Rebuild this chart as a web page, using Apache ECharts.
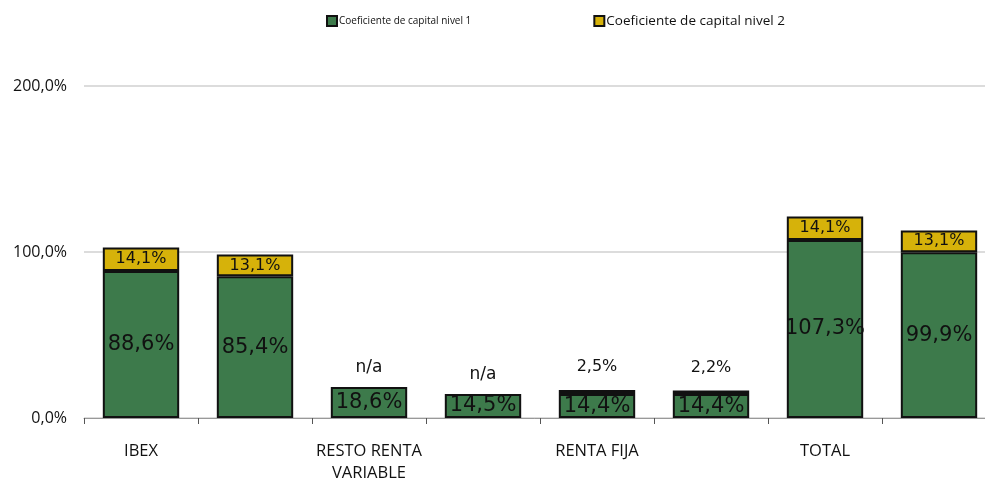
<!DOCTYPE html>
<html>
<head>
<meta charset="utf-8">
<script src="https://cdn.jsdelivr.net/npm/echarts@6/dist/echarts.min.js"></script>
<style>
  html, body { margin: 0; padding: 0; background: #fff; }
  #chart { width: 985px; height: 483px; }
</style>
</head>
<body>
<div id="chart"></div>
<script>
// categories (labels shown only under the first bar of each pair)
const categories = ['IBEX', '', 'RESTO RENTA\nVARIABLE', '', 'RENTA FIJA', '', 'TOTAL', '']
const nivel1 = [88.6, 85.4, 18.6, 14.5, 14.4, 14.4, 107.3, 99.9]
const nivel2 = [14.1, 13.1, null, null, 2.5, 2.2, 14.1, 13.1]
const yTicks = [0, 100, 200]

const green = '#3d7a4b'
const gold = '#d6b20a'
const fmt = v => v.toFixed(1).replace('.', ',') + '%'

const chart = echarts.init(document.getElementById('chart'))

const nivel2Data = nivel2.map(v => {
  if (v === null) {
    return {
      value: 0,
      itemStyle: { borderWidth: 0, color: 'transparent' },
      label: { show: true, position: 'top', distance: 11, formatter: 'n/a', fontSize: 17 },
    }
  }
  if (v < 5) {
    return {
      value: v,
      label: { show: true, position: 'top', distance: 15, fontSize: 16 },
    }
  }
  return { value: v }
})

chart.setOption({
  animation: false,
  legend: {
    left: 321,
    top: 9,
    itemGap: 122,
    itemWidth: 10,
    itemHeight: 10,
    icon: 'rect',
    data: [
      { name: 'Coeficiente de capital nivel 1', textStyle: { fontSize: 10, fontFamily: 'Open Sans', color: '#111', padding: [0, 0, 0, -3] } },
      { name: 'Coeficiente de capital nivel 2', textStyle: { fontSize: 13.5, fontFamily: 'Open Sans', color: '#111', padding: [0, 0, 0, -3] } },
    ],
  },
  grid: {
    left: 84,
    width: 912,
    top: 86,
    bottom: 65,
    containLabel: false,
    outerBoundsMode: 'none',
  },
  xAxis: {
    type: 'category',
    data: categories,
    axisLine: { lineStyle: { color: '#999', width: 1 } },
    axisTick: { show: true, length: 6, lineStyle: { color: '#555' } },
    axisLabel: {
      interval: 0,
      margin: 22,
      fontFamily: 'Open Sans',
      fontSize: 16.5,
      color: '#111',
      lineHeight: 22,
    },
  },
  yAxis: {
    type: 'value',
    min: yTicks[0],
    max: yTicks[yTicks.length - 1],
    interval: 100,
    axisLine: { show: false },
    axisTick: { show: false },
    splitLine: { lineStyle: { color: '#d0d0d0', width: 1.5 } },
    axisLabel: {
      formatter: fmt,
      fontFamily: 'Open Sans',
      fontSize: 16,
      color: '#111',
      margin: 17,
    },
  },
  series: [
    {
      name: 'Coeficiente de capital nivel 1',
      type: 'bar',
      stack: 'total',
      barWidth: '67%',
      data: nivel1,
      itemStyle: { color: green, borderColor: '#111', borderWidth: 2 },
      label: {
        show: true,
        position: 'inside',
        formatter: p => fmt(p.value),
        fontFamily: 'DejaVu Sans',
        fontSize: 21,
        color: '#111',
      },
    },
    {
      name: 'Coeficiente de capital nivel 2',
      type: 'bar',
      stack: 'total',
      barWidth: '67%',
      data: nivel2Data,
      itemStyle: { color: gold, borderColor: '#111', borderWidth: 2 },
      label: {
        show: true,
        position: 'inside',
        formatter: p => fmt(p.value),
        fontFamily: 'DejaVu Sans',
        fontSize: 16,
        color: '#111',
      },
    },
  ],
})
</script>
</body>
</html>
